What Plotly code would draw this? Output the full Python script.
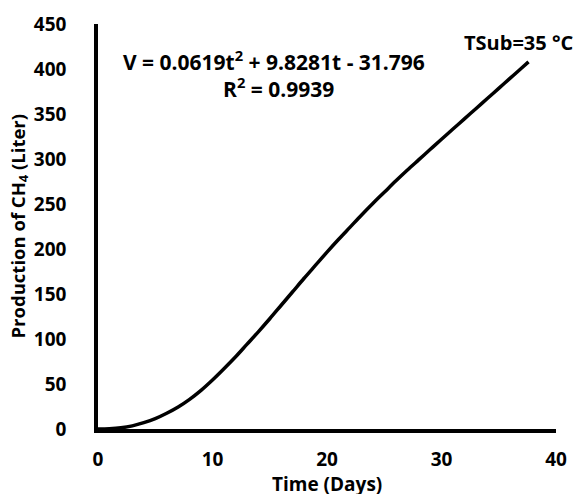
import plotly.graph_objects as go

days = [0, 1, 2, 3, 4, 5, 6, 7, 8, 9, 10, 11, 12, 13, 14, 15, 16, 17, 18, 19, 20,
        21, 22, 23, 24, 25, 26, 27, 28, 29, 30, 31, 32, 33, 34, 35, 36, 37, 37.6]
production = [0, 0.3, 1.3, 3.5, 7, 11.5, 17.5, 24.5, 33, 43, 54.5, 67, 80, 94, 108,
              122.5, 137.5, 152.5, 167.5, 182, 196.5, 210.5, 224, 237.5, 250.5, 263,
              275.5, 287.5, 299, 310.5, 322, 333.3, 344.6, 355.9, 367.2, 378.5, 389.8,
              401.1, 407.9]

x_ticks = [0, 10, 20, 30, 40]
y_ticks = [0, 50, 100, 150, 200, 250, 300, 350, 400, 450]

FONT = "Open Sans"

fig = go.Figure()
fig.add_trace(go.Scatter(x=days, y=production, mode="lines",
                         line=dict(color="black", width=3.5, shape="spline", smoothing=1),
                         showlegend=False, hoverinfo="skip"))

fig.update_layout(
    width=577, height=494,
    margin=dict(l=98, r=21, t=24, b=65),
    paper_bgcolor="white", plot_bgcolor="white",
    font=dict(family=FONT, color="black", size=17, weight="bold"),
    xaxis=dict(range=[0, 40], tickvals=x_ticks, showgrid=False, zeroline=False,
               showline=True, linecolor="black", linewidth=3.5, ticks="",
               ticklabelstandoff=10, automargin=False,
               tickfont=dict(family=FONT, size=19, weight="bold")),
    yaxis=dict(range=[0, 450], tickvals=y_ticks, showgrid=False, zeroline=False,
               showline=True, linecolor="black", linewidth=3.5, ticks="",
               ticklabelstandoff=24, automargin=False,
               tickfont=dict(family=FONT, size=19, weight="bold")),
)

fig.add_annotation(x=0.5, y=0, xref="paper", yref="paper", yshift=-55, showarrow=False,
                   text="<b>Time (Days)</b>",
                   font=dict(family=FONT, size=19, weight="bold"), xanchor="center", yanchor="middle")
fig.add_annotation(x=0, y=0.5, xref="paper", yref="paper", xshift=-80, showarrow=False,
                   textangle=-90,
                   text="<b>Production of CH<sub>4</sub> (Liter)</b>",
                   font=dict(family=FONT, size=18.5, weight="bold"), xanchor="center", yanchor="middle")
fig.add_annotation(x=15.37, y=410, xref="x", yref="y", showarrow=False,
                   text="<b>V = 0.0619t<sup>2</sup> + 9.8281t - 31.796</b>",
                   font=dict(family=FONT, size=21, weight="bold"), xanchor="center", yanchor="middle")
fig.add_annotation(x=15.8, y=379, xref="x", yref="y", showarrow=False,
                   text="<b>R<sup>2</sup> = 0.9939</b>",
                   font=dict(family=FONT, size=21, weight="bold"), xanchor="center", yanchor="middle")
fig.add_annotation(x=36.7, y=430, xref="x", yref="y", showarrow=False,
                   text="<b>TSub=35 °C</b>",
                   font=dict(family=FONT, size=20, weight="bold"), xanchor="center", yanchor="middle")

fig.write_html("out.html")
